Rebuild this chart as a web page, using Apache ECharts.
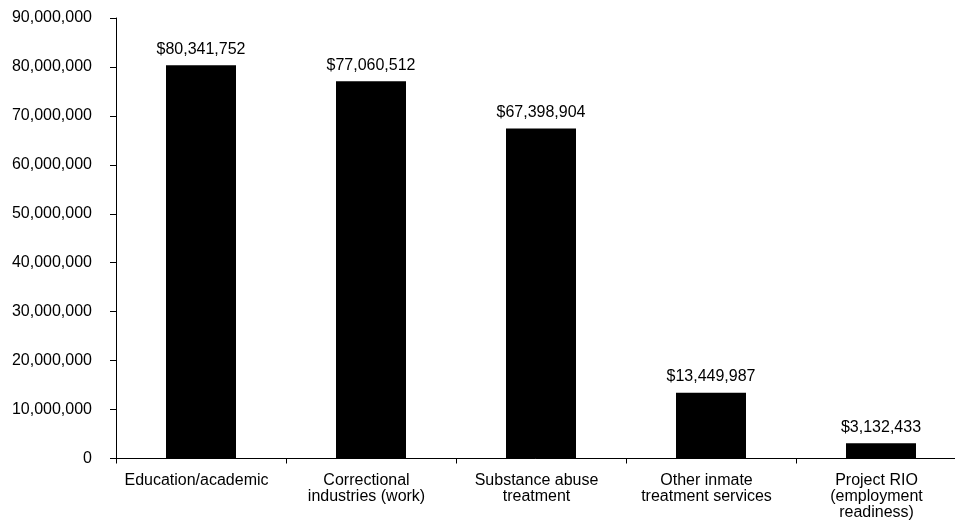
<!DOCTYPE html>
<html>
<head>
<meta charset="utf-8">
<script src="https://cdn.jsdelivr.net/npm/echarts@6/dist/echarts.min.js"></script>
<style>
html,body{margin:0;padding:0;background:#fff;}
#chart{width:955px;height:523px;}
</style>
</head>
<body>
<div id="chart"></div>
<script>
// 类别（换行与原图一致）
var categories = [
    'Education/academic',
    'Correctional\nindustries (work)',
    'Substance abuse\ntreatment',
    'Other inmate\ntreatment services',
    'Project RIO\n(employment\nreadiness)'
];
// 各项金额
var amounts = [80341752, 77060512, 67398904, 13449987, 3132433];
// y轴刻度
var yMin = 0, yMax = 90000000, yStep = 10000000;

function fmtNum(v) {
    return Number(v).toLocaleString('en-US');
}

var dom = document.getElementById('chart');
var myChart = echarts.init(dom);

var option = {
    animation: false,
    textStyle: {fontFamily: 'Liberation Sans, Arial, sans-serif'},
    grid: {left: 116, width: 850, top: 18, height: 440.5, containLabel: false, outerBoundsMode: 'none'},
    xAxis: {
        type: 'category',
        data: categories,
        axisLine: {lineStyle: {color: '#000', width: 1}},
        axisTick: {show: true, length: 5, alignWithLabel: false, lineStyle: {color: '#000'}},
        axisLabel: {color: '#000', fontSize: 16, margin: 14, lineHeight: 16, interval: 0, padding: [0, 9, 0, 0]}
    },
    yAxis: {
        type: 'value',
        min: yMin,
        max: yMax,
        interval: yStep,
        axisLine: {show: true, lineStyle: {color: '#000', width: 1}},
        axisTick: {show: true, length: 6, lineStyle: {color: '#000'}},
        splitLine: {show: false},
        axisLabel: {color: '#000', fontSize: 16, margin: 24, formatter: fmtNum}
    },
    series: [{
        type: 'bar',
        data: amounts,
        barWidth: 70,
        itemStyle: {color: '#000'},
        label: {
            show: true,
            position: 'top',
            distance: 8,
            color: '#000',
            fontSize: 16,
            formatter: function (p) { return '$' + fmtNum(p.value); }
        }
    }]
};
myChart.setOption(option, true);
</script>
</body>
</html>
